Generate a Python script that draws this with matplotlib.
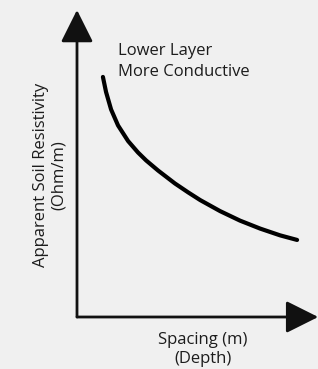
import matplotlib.pyplot as plt
import numpy as np

# curve (spacing vs apparent resistivity, arbitrary units)
spacing = [1.08, 1.21, 1.42, 1.71, 2.13, 2.54, 2.88, 3.38, 4.08, 4.63,
           5.13, 5.96, 6.79, 7.63, 8.46, 9.17]
resistivity = [7.82, 7.33, 6.76, 6.24, 5.73, 5.36, 5.10, 4.77, 4.35, 4.06,
               3.81, 3.45, 3.14, 2.88, 2.66, 2.51]

annotation = ["Lower Layer", "More Conductive"]
ylabel_lines = ["Apparent Soil Resistivity", "(Ohm/m)"]
xlabel_lines = ["Spacing (m)", "(Depth)"]

bg = "#f0f0f0"
ink = "#111111"
txt = "#1c1c1c"

plt.rcParams["font.family"] = ["Open Sans", "DejaVu Sans"]

fig = plt.figure(figsize=(3.18, 3.69), dpi=100, facecolor=bg)
ax = fig.add_axes([77 / 318, 52 / 369, 240 / 318, 307 / 369])
ax.set_facecolor(bg)
ax.set_xlim(0, 10)
ax.set_ylim(0, 10)
ax.axis("off")

arrow = dict(arrowstyle="-|>,head_length=1.0,head_width=0.5", mutation_scale=20,
             lw=2, color=ink, shrinkA=0, shrinkB=0)
ax.annotate("", xy=(10.05, 0), xytext=(0, 0), arrowprops=arrow, annotation_clip=False)
ax.annotate("", xy=(0, 10), xytext=(0, 0), arrowprops=arrow, annotation_clip=False)

ax.plot(spacing, resistivity, color="black", lw=3, solid_capstyle="round",
        solid_joinstyle="round")

ax.text(1.70, 8.66, annotation[0], fontsize=12, color=txt, va="center", ha="left")
ax.text(1.70, 7.98, annotation[1], fontsize=12, color=txt, va="center", ha="left")

ax.text(-1.49, 4.63, ylabel_lines[0], fontsize=12, color=txt, rotation=90,
        va="center", ha="center", clip_on=False)
ax.text(-0.75, 4.63, ylabel_lines[1], fontsize=12, color=txt, rotation=90,
        va="center", ha="center", clip_on=False)

ax.text(5.23, -0.75, xlabel_lines[0], fontsize=12, color=txt,
        va="center", ha="center", clip_on=False)
ax.text(5.23, -1.37, xlabel_lines[1], fontsize=12, color=txt,
        va="center", ha="center", clip_on=False)

fig.savefig("out.png", dpi=100, facecolor=bg)
